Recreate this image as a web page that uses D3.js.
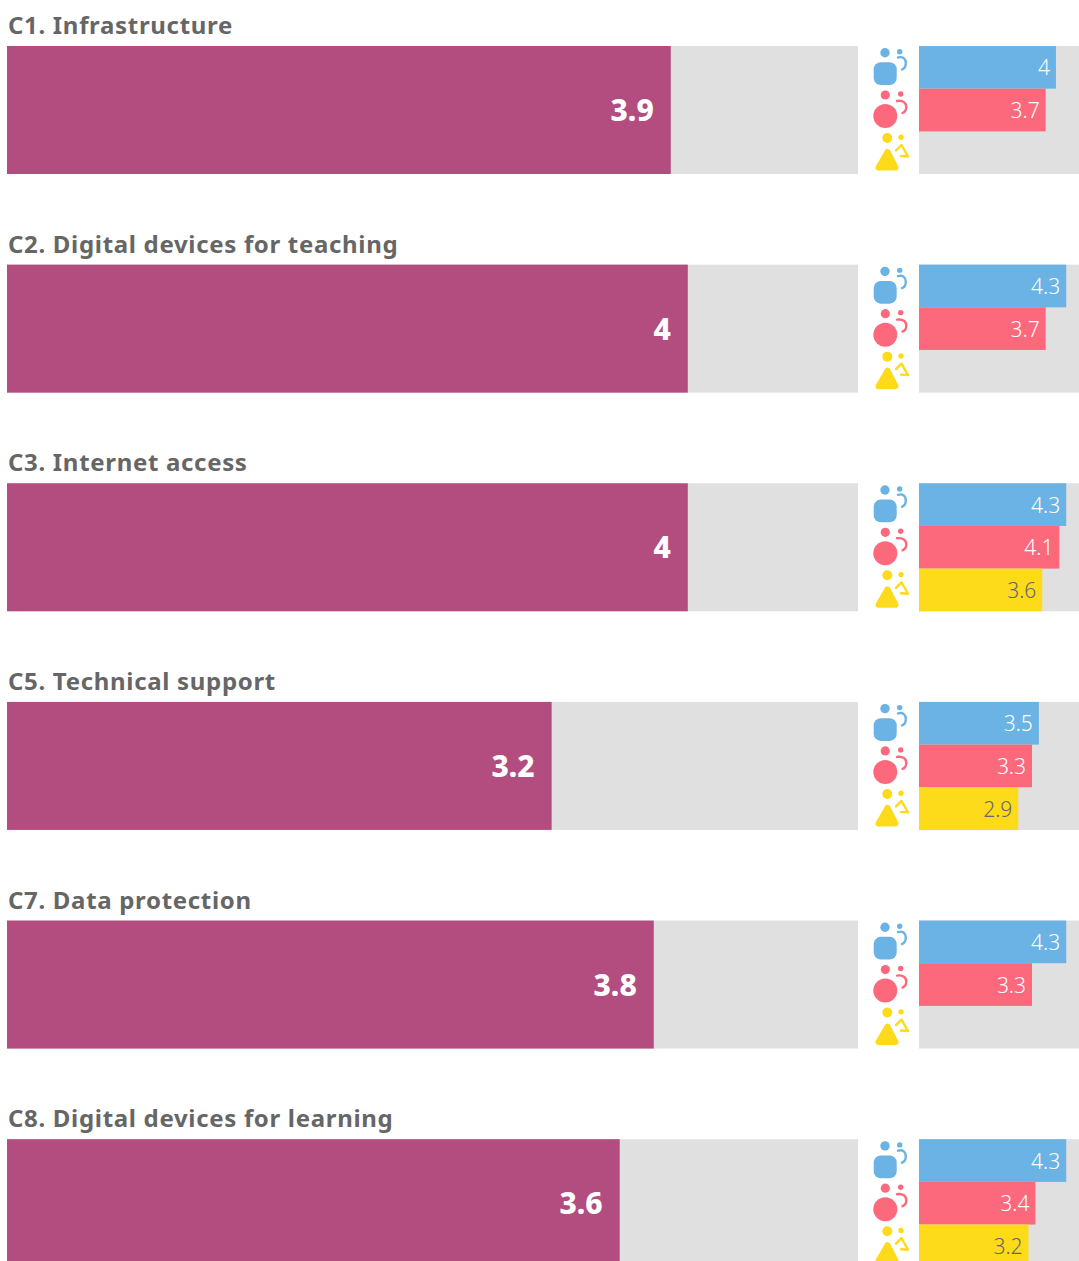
<!DOCTYPE html>
<html>
<head>
<meta charset="utf-8">
<script src="https://cdn.jsdelivr.net/npm/d3@7"></script>
<style>
    html, body { margin: 0; padding: 0; background: white; overflow: hidden; }
    svg { display: block; }
    text { font-family: "Noto Sans", sans-serif; }
</style>
</head>
<body>
<div id="chart"></div>
<script>
//Values. null means the group has no bar for that row.
const titles = ["C1. Infrastructure", "C2. Digital devices for teaching", "C3. Internet access",
    "C5. Technical support", "C7. Data protection", "C8. Digital devices for learning"];
const overall = [3.9, 4, 4, 3.2, 3.8, 3.6];
const blueValues = [4, 4.3, 4.3, 3.5, 4.3, 4.3];
const redValues = [3.7, 3.7, 4.1, 3.3, 3.3, 3.4];
const yellowValues = [null, null, 3.6, 2.9, null, 3.2];

const groups = ["blue", "red", "yellow"];
const groupValues = [blueValues, redValues, yellowValues];
const groupColours = ["#6bb3e4", "#fc697d", "#fddb1b"];
const groupTextColours = ["white", "white", "#666666"];

const width = 1079;
const height = 1261;
const rowHeight = 128;

const svg = d3.select("#chart").append("svg")
    .attr("width", width)
    .attr("height", height);

//Each row starts at its bar top, titles sit above it.
const yRow = d3.scalePoint()
    .domain(d3.range(titles.length))
    .range([46, 1139.2]);

const xMain = d3.scaleLinear()
    .domain([0, 5])
    .range([7, 858]);

//The small bars carry on past the page edge, the picture cuts them off.
const xSmall = d3.scaleLinear()
    .domain([0, 5])
    .range([919, 1090.2]);

const ySmall = d3.scaleBand()
    .domain(groups)
    .range([0, rowHeight]);

const rows = svg.selectAll("g.row")
    .data(titles)
    .join("g")
    .attr("class", "row")
    .attr("transform", (d, i) => "translate(0," + yRow(i) + ")");

rows.append("text")
    .attr("x", 8)
    .attr("y", -12)
    .attr("fill", "#666666")
    .attr("font-size", 24)
    .attr("font-weight", 700)
    .attr("letter-spacing", 0.68)
    .text(d => d);

//Main bars
rows.append("rect")
    .attr("x", xMain(0))
    .attr("width", xMain(5) - xMain(0))
    .attr("height", rowHeight)
    .attr("fill", "#e0e0e0");

rows.append("rect")
    .attr("x", xMain(0))
    .attr("width", (d, i) => xMain(overall[i]) - xMain(0))
    .attr("height", rowHeight)
    .attr("fill", "#b34c7f");

rows.append("text")
    .attr("x", (d, i) => xMain(overall[i]) - 17)
    .attr("y", rowHeight / 2 + 11)
    .attr("text-anchor", "end")
    .attr("fill", "white")
    .attr("font-size", 30)
    .attr("font-weight", 800)
    .text((d, i) => overall[i]);

//Small bars, one per group
rows.append("rect")
    .attr("x", xSmall(0))
    .attr("width", width - xSmall(0))
    .attr("height", rowHeight)
    .attr("fill", "#e0e0e0");

groups.forEach((group, g) => {
    const withValue = rows.filter((d, i) => groupValues[g][i] !== null);

    withValue.append("rect")
        .attr("x", xSmall(0))
        .attr("y", ySmall(group))
        .attr("width", (d) => xSmall(groupValues[g][titles.indexOf(d)]) - xSmall(0))
        .attr("height", ySmall.bandwidth())
        .attr("fill", groupColours[g]);

    withValue.append("text")
        .attr("x", (d) => xSmall(groupValues[g][titles.indexOf(d)]) - 6)
        .attr("y", ySmall(group) + ySmall.bandwidth() / 2 + 8)
        .attr("text-anchor", "end")
        .attr("fill", groupTextColours[g])
        .attr("font-size", 21)
        .attr("font-weight", 300)
        .text((d) => groupValues[g][titles.indexOf(d)]);
});

//Pictograms next to the small bars
const icons = rows.append("g");

const blueIcon = icons.append("g").attr("fill", groupColours[0]);
blueIcon.append("circle").attr("cx", 885).attr("cy", 6.7).attr("r", 4.7);
blueIcon.append("circle").attr("cx", 899.7).attr("cy", 5.7).attr("r", 2.7);
blueIcon.append("rect").attr("x", 873.7).attr("y", 16.3).attr("width", 23).attr("height", 22.7).attr("rx", 7);
blueIcon.append("path").attr("fill", "none").attr("stroke", groupColours[0]).attr("stroke-width", 2.4)
    .attr("stroke-linecap", "round")
    .attr("d", "M898,11.5C903,10 905.8,13 905.8,17C905.8,20 904.5,22.5 902,23.5");

const redIcon = icons.append("g").attr("fill", groupColours[1]);
redIcon.append("circle").attr("cx", 885.3).attr("cy", 49).attr("r", 4.6);
redIcon.append("circle").attr("cx", 900.7).attr("cy", 48).attr("r", 2.7);
redIcon.append("circle").attr("cx", 885.3).attr("cy", 70).attr("r", 12);
redIcon.append("path").attr("fill", "none").attr("stroke", groupColours[1]).attr("stroke-width", 2.4)
    .attr("stroke-linecap", "round")
    .attr("d", "M897,55C903,54 906.3,57 906.3,61C906.3,64 905,66 902.5,67");

const yellowIcon = icons.append("g").attr("fill", groupColours[2]);
yellowIcon.append("circle").attr("cx", 887.3).attr("cy", 92).attr("r", 5);
yellowIcon.append("circle").attr("cx", 901).attr("cy", 91.3).attr("r", 2.7);
yellowIcon.append("path").attr("stroke", groupColours[2]).attr("stroke-width", 6).attr("stroke-linejoin", "round")
    .attr("d", "M887.5,106L895.5,121.5L878.5,121.5Z");
yellowIcon.append("path").attr("fill", "none").attr("stroke", groupColours[2]).attr("stroke-width", 2.4)
    .attr("stroke-linecap", "round").attr("stroke-linejoin", "round")
    .attr("d", "M896,104.5L901.5,99L908,110.5L901,110");
</script>
</body>
</html>
